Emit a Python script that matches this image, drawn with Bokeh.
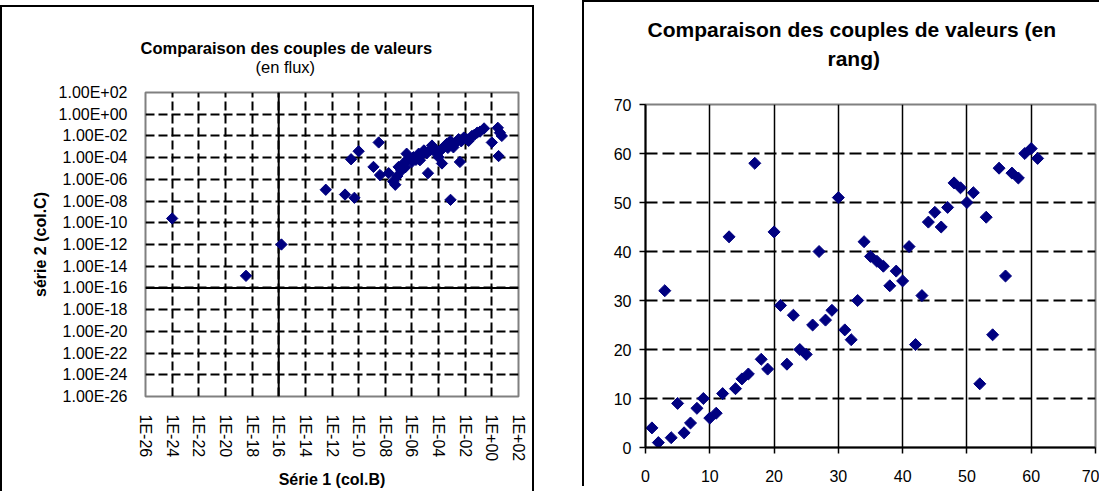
from bokeh.plotting import figure
from bokeh.models import Range1d, FixedTicker, Span, Title, Spacer
from bokeh.layouts import row
from bokeh.embed import file_html
from bokeh.resources import INLINE

# ---------------- data : left chart (flux values) ----------------
serie1_flux = [1.0e-24, 3.5e-19, 1.6e-16, 3.4e-13, 9.5e-12, 4.8e-11, 2.7e-11, 1.0e-10,
               3.2e-09, 1.3e-09, 4.0e-09, 1.8e-08, 4.0e-08, 5.6e-08, 1.0e-07, 2.5e-07,
               4.0e-07, 5.6e-07, 1.3e-06, 3.2e-06, 7.9e-06, 4.0e-06, 1.6e-05, 3.2e-05,
               5.6e-05, 1.0e-04, 1.8e-04, 1.8e-04, 4.0e-04, 7.9e-04, 1.3e-03, 7.9e-04,
               4.0e-03, 3.2e-03, 7.9e-03, 1.8e-02, 3.2e-02, 7.9e-02, 2.6e-01, 1.0e+00,
               2.8e+00, 4.0e+00, 3.2e+00, 5.6e+00, 7.9e-08, 1.6e-07, 3.2e-07, 1.0e-06,
               2.0e-06, 5.0e-06, 1.3e-05, 2.5e-05, 4.0e-05, 1.3e-04, 2.5e-04, 5.0e-04,
               2.0e-03, 5.0e-03, 1.3e-02, 5.0e-02, 1.3e-01]
serie2_flux = [2.5e-10, 1.3e-15, 1.0e-12, 1.1e-07, 4.0e-08, 2.0e-08, 7.1e-05, 3.9e-04,
               2.5e-03, 1.4e-05, 2.5e-06, 3.7e-06, 6.3e-07, 3.2e-07, 1.4e-05, 3.2e-05,
               2.3e-04, 7.9e-05, 1.1e-04, 2.3e-04, 4.6e-04, 5.8e-05, 3.7e-06, 1.3e-03,
               3.2e-04, 1.1e-04, 6.3e-04, 2.9e-05, 1.8e-03, 3.5e-03, 8.9e-04, 1.3e-08,
               4.0e-05, 5.0e-03, 7.1e-03, 3.5e-03, 1.0e-02, 2.0e-02, 4.9e-02, 2.5e-03,
               5.6e-02, 2.0e-02, 1.4e-04, 1.0e-02, 2.0e-06, 6.3e-06, 1.3e-05, 4.0e-05,
               6.3e-05, 1.6e-04, 2.5e-04, 5.0e-04, 7.9e-04, 4.0e-04, 1.0e-03, 7.9e-04,
               2.5e-03, 3.2e-03, 5.0e-03, 1.3e-02, 2.5e-02]

log_tick_exponents = [-26, -24, -22, -20, -18, -16, -14, -12, -10, -8, -6, -4, -2, 0, 2]
x_tick_labels = ["1E-26", "1E-24", "1E-22", "1E-20", "1E-18", "1E-16", "1E-14", "1E-12",
                 "1E-10", "1E-08", "1E-06", "1E-04", "1E-02", "1E+00", "1E+02"]
y_tick_labels = ["1.00E-26", "1.00E-24", "1.00E-22", "1.00E-20", "1.00E-18", "1.00E-16",
                 "1.00E-14", "1.00E-12", "1.00E-10", "1.00E-08", "1.00E-06", "1.00E-04",
                 "1.00E-02", "1.00E+00", "1.00E+02"]

# ---------------- data : right chart (ranks) ----------------
rang1 = [1, 2, 3, 4, 5, 6, 7, 8, 9, 10, 11, 12, 13, 14, 15, 16, 17, 18, 19, 20,
         21, 22, 23, 24, 25, 26, 27, 28, 29, 30, 31, 32, 33, 34, 35, 36, 37, 38, 39, 40,
         41, 42, 43, 44, 45, 46, 47, 48, 49, 50, 51, 52, 53, 54, 55, 56, 57, 58, 59, 60, 61]
rang2 = [4, 1, 32, 2, 9, 3, 5, 8, 10, 6, 7, 11, 43, 12, 14, 15, 58, 18, 16, 44,
         29, 17, 27, 20, 19, 25, 40, 26, 28, 51, 24, 22, 30, 42, 39, 38, 37, 33, 36, 34,
         41, 21, 31, 46, 48, 45, 49, 54, 53, 50, 52, 13, 47, 23, 57, 35, 56, 55, 60, 61, 59]
rank_ticks = [0, 10, 20, 30, 40, 50, 60, 70]

FONT = "Liberation Sans"
NAVY = "#000080"


def spacer_title(standoff):
    return Title(text=" ", text_font=FONT, text_font_size="2px", standoff=standoff)


# =============== left chart ===============
log_ticks = [float("1e%d" % e) for e in log_tick_exponents]

p1 = figure(x_axis_type="log", y_axis_type="log",
            x_range=Range1d(log_ticks[0], log_ticks[-1]),
            y_range=Range1d(log_ticks[0], log_ticks[-1]),
            frame_width=373, frame_height=304, frame_align=False,
            min_border_left=145, min_border_right=16, min_border_top=92, min_border_bottom=90,
            output_backend="svg", toolbar_location=None,
            background_fill_color="white", border_fill_color=None,
            styles={"box-shadow": "inset 0 5px 0 0 #ffffff, inset 2px 7px 0 0 #000000, "
                                  "inset -2px 0 0 0 #000000"})
p1.outline_line_color = "#808080"
p1.outline_line_width = 2

for ax, labels in ((p1.xaxis[0], x_tick_labels), (p1.yaxis[0], y_tick_labels)):
    ax.ticker = FixedTicker(ticks=log_ticks, minor_ticks=[])
    ax.major_label_overrides = dict(zip(log_ticks, labels))
    ax.axis_line_color = None
    ax.major_tick_line_color = None
    ax.minor_tick_line_color = None
    ax.major_label_text_font = FONT
    ax.major_label_text_font_size = "16px"
    ax.major_label_text_color = "black"
    ax.axis_label_text_font = FONT
    ax.axis_label_text_font_size = "16px"
    ax.axis_label_text_font_style = "bold"
    ax.axis_label_text_color = "black"

p1.xaxis.major_label_orientation = "vertical"
p1.xaxis.major_label_standoff = 12
p1.xaxis.axis_label = "Série 1 (col.B)"
p1.xaxis.axis_label_standoff = 7
p1.yaxis.major_label_standoff = 12
p1.yaxis.axis_label = "série 2 (col.C)"
p1.yaxis.axis_label_standoff = 7

for g in (p1.xgrid[0], p1.ygrid[0]):
    g.grid_line_color = "black"
    g.grid_line_width = 2
    g.grid_line_dash = "9 4"

p1.add_layout(Span(location=log_ticks[5], dimension="height", line_color="black",
                   line_width=2, level="underlay"))
p1.add_layout(Span(location=log_ticks[5], dimension="width", line_color="black",
                   line_width=2, level="underlay"))

p1.scatter(serie1_flux, serie2_flux, marker="square", angle=0.785398, size=8,
           fill_color=NAVY, line_color=NAVY)

# titles (closest to the frame first)
p1.add_layout(spacer_title(10.5), "above")
p1.add_layout(Title(text="(en flux)", text_font=FONT, text_font_size="16.5px",
                    text_font_style="normal", text_color="black",
                    align="left", offset=110, vertical_align="top", standoff=0), "above")
p1.add_layout(Title(text="Comparaison des couples de valeurs", text_font=FONT,
                    text_font_size="16.5px", text_font_style="bold", text_color="black",
                    align="left", offset=-5, vertical_align="bottom", standoff=1), "above")

# =============== right chart ===============
p2 = figure(x_range=Range1d(0, 70), y_range=Range1d(0, 70),
            frame_width=450, frame_height=343, frame_align=False,
            min_border_left=63, min_border_right=4, min_border_top=104, min_border_bottom=39,
            output_backend="svg", toolbar_location=None,
            background_fill_color="white", border_fill_color=None,
            styles={"box-shadow": "inset 2px 2px 0 0 #000000"})
p2.outline_line_color = "#808080"
p2.outline_line_width = 2

for ax in (p2.xaxis[0], p2.yaxis[0]):
    ax.ticker = FixedTicker(ticks=rank_ticks, minor_ticks=[])
    ax.axis_line_color = "black"
    ax.axis_line_width = 2
    ax.major_tick_line_color = "black"
    ax.major_tick_line_width = 1.5
    ax.major_tick_in = 0
    ax.major_tick_out = 6
    ax.minor_tick_line_color = None
    ax.major_label_text_font = FONT
    ax.major_label_text_font_size = "16px"
    ax.major_label_text_color = "black"
p2.xaxis.major_label_standoff = 16
p2.yaxis.major_label_standoff = 8

p2.xgrid.grid_line_color = "black"
p2.xgrid.grid_line_width = 1.5
p2.ygrid.grid_line_color = "black"
p2.ygrid.grid_line_width = 2
p2.ygrid.grid_line_dash = "12 5"

p2.scatter(rang1, rang2, marker="square", angle=0.785398, size=8.5,
           fill_color=NAVY, line_color=NAVY)

p2.add_layout(spacer_title(29), "above")
p2.add_layout(Title(text="rang)", text_font=FONT, text_font_size="21px",
                    text_font_style="bold", text_color="black",
                    align="left", offset=182, vertical_align="top", standoff=0), "above")
p2.add_layout(Title(text="Comparaison des couples de valeurs  (en", text_font=FONT,
                    text_font_size="21px", text_font_style="bold", text_color="black",
                    align="left", offset=2, vertical_align="bottom", standoff=12), "above")

layout = row(p1, Spacer(width=48, height=10), p2)

open("out.html", "w").write(file_html(layout, INLINE))
